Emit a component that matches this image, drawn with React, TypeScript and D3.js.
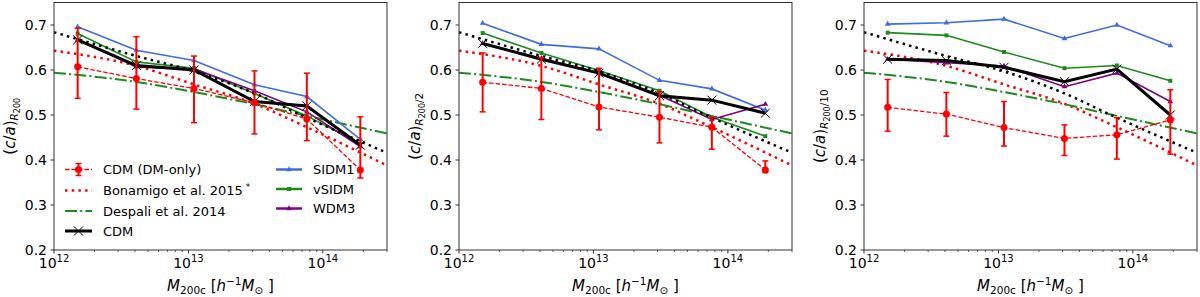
import * as d3 from "d3";

// halo mass bin centres [h^-1 M_sun]
const masses = [1.5e12, 4.1e12, 1.1e13, 3.1e13, 7.6e13, 1.9e14];

// masses where the analytic fits are sampled
const fitMasses = [1e12, 4e12, 1.1e13, 3.1e13, 7.1e13, 3e14];
const fitCdm = [0.684, 0.632, 0.597, 0.548, 0.498, 0.416];
const bonamigo = [0.643, 0.61, 0.568, 0.525, 0.477, 0.388];
const despali = [0.594, 0.574, 0.551, 0.524, 0.5, 0.459];

// one row per panel: R200, R200/2, R200/10
const radiusSuffix = ["", "/2", "/10"];

const cdmDmOnly = [
  [0.607, 0.581, 0.559, 0.527, 0.491, 0.378],
  [0.573, 0.559, 0.518, 0.495, 0.473, 0.378],
  [0.517, 0.502, 0.472, 0.448, 0.456, 0.489],
];
const cdmDmOnlyHi = [
  [0.693, 0.674, 0.631, 0.598, 0.593, 0.496],
  [0.638, 0.627, 0.604, 0.552, 0.496, 0.398],
  [0.579, 0.55, 0.53, 0.478, 0.494, 0.556],
];
const cdmDmOnlyLo = [
  [0.537, 0.513, 0.483, 0.458, 0.443, 0.36],
  [0.507, 0.49, 0.467, 0.438, 0.424, 0.372],
  [0.464, 0.453, 0.431, 0.41, 0.402, 0.413],
];
const sidm1 = [
  [0.696, 0.644, 0.621, 0.567, 0.541, 0.446],
  [0.704, 0.657, 0.647, 0.577, 0.558, 0.511],
  [0.702, 0.705, 0.713, 0.67, 0.7, 0.654],
];
const vsidm = [
  [0.681, 0.618, 0.604, 0.548, 0.498, 0.436],
  [0.682, 0.638, 0.599, 0.554, 0.495, 0.453],
  [0.683, 0.677, 0.64, 0.604, 0.61, 0.576],
];
const wdm3 = [
  [0.667, 0.607, 0.602, 0.554, 0.507, 0.43],
  [0.659, 0.626, 0.593, 0.544, 0.49, 0.524],
  [0.624, 0.616, 0.609, 0.563, 0.593, 0.53],
];
const cdm = [
  [0.667, 0.61, 0.6, 0.53, 0.52, 0.433],
  [0.659, 0.624, 0.593, 0.543, 0.533, 0.504],
  [0.624, 0.621, 0.606, 0.574, 0.602, 0.5],
];

const yTicks = [0.2, 0.3, 0.4, 0.5, 0.6, 0.7];
const xMajor = [1e12, 1e13, 1e14];

const BLUE = "#3f6be0";
const GREEN = "#1e8a1e";
const PURPLE = "#800080";
const RED = "#ff0000";
const FONT = "DejaVu Sans, sans-serif";

const plotW = 333;
const plotH = 247.5;
const top = 2.5;

const x = d3.scaleLog().domain([1e12, 3e14]).range([0, plotW]);
const y = d3.scaleLinear().domain([0.2, 0.75]).range([plotH, 0]);

const tri = d3.symbol(d3.symbolTriangle, 14);
const sq = d3.symbol(d3.symbolSquare, 16);
const times = d3.symbol((d3 as any).symbolTimes ?? d3.symbolCross, 55);

const lineOf = (vals: number[], ms: number[] = masses) =>
  d3
    .line<number>()
    .x((_, i) => x(ms[i]))
    .y((v) => y(v))
    .curve(d3.curveLinear)(vals) || "";

const fitLine = (vals: number[]) =>
  d3
    .line<number>()
    .x((_, i) => x(fitMasses[i]))
    .y((v) => y(v))
    .curve(d3.curveMonotoneX)(vals) || "";

const DOT = "2.5 4.2";
const DASHDOT = "12 3.2 2 3.2";

const Series = ({ vals, color, marker }: { vals: number[]; color: string; marker: string }) => (
  <g>
    <path d={lineOf(vals)} fill="none" stroke={color} strokeWidth={1.6} />
    {vals.map((v, i) => (
      <path key={i} d={marker} transform={`translate(${x(masses[i])},${y(v)})`} fill={color} />
    ))}
  </g>
);

const Panel = ({ p }: { p: number }) => {
  const left = 54 + p * 405;
  const minor = x.ticks().filter((t) => !xMajor.includes(t));
  return (
    <g transform={`translate(${left},${top})`} fontFamily={FONT}>
      {/* analytic fits */}
      <path d={fitLine(bonamigo)} fill="none" stroke={RED} strokeWidth={2.5} strokeDasharray={DOT} />
      <path d={fitLine(despali)} fill="none" stroke={GREEN} strokeWidth={2} strokeDasharray={DASHDOT} />

      <Series vals={sidm1[p]} color={BLUE} marker={tri() || ""} />
      <Series vals={vsidm[p]} color={GREEN} marker={sq() || ""} />
      <Series vals={wdm3[p]} color={PURPLE} marker={tri() || ""} />

      <path d={lineOf(cdm[p])} fill="none" stroke="black" strokeWidth={3} />
      {cdm[p].map((v, i) => (
        <path key={i} d={times() || ""} transform={`translate(${x(masses[i])},${y(v)})`} fill="none" stroke="black" strokeWidth={1} />
      ))}

      <path d={fitLine(fitCdm)} fill="none" stroke="black" strokeWidth={2.5} strokeDasharray={DOT} />

      {/* DM-only with error bars */}
      <path d={lineOf(cdmDmOnly[p])} fill="none" stroke={RED} strokeWidth={1.3} strokeDasharray="4.5 2" />
      {cdmDmOnly[p].map((v, i) => {
        const cx = x(masses[i]);
        return (
          <g key={i}>
            <line x1={cx} x2={cx} y1={y(cdmDmOnlyLo[p][i])} y2={y(cdmDmOnlyHi[p][i])} stroke={RED} strokeWidth={2} />
            <line x1={cx - 3} x2={cx + 3} y1={y(cdmDmOnlyLo[p][i])} y2={y(cdmDmOnlyLo[p][i])} stroke={RED} strokeWidth={1.5} />
            <line x1={cx - 3} x2={cx + 3} y1={y(cdmDmOnlyHi[p][i])} y2={y(cdmDmOnlyHi[p][i])} stroke={RED} strokeWidth={1.5} />
            <circle cx={cx} cy={y(v)} r={3.5} fill={RED} />
          </g>
        );
      })}

      {/* frame */}
      <rect x={0} y={0} width={plotW} height={plotH} fill="none" stroke="#333" strokeWidth={1} />

      {/* y axis */}
      {yTicks.map((t) => (
        <g key={t} transform={`translate(0,${y(t)})`}>
          <line x1={-3.5} x2={0} stroke="#333" />
          <text x={-7} dy="0.36em" textAnchor="end" fontSize={14}>
            {t.toFixed(1)}
          </text>
        </g>
      ))}

      {/* x axis */}
      {minor.map((t) => (
        <line key={t} x1={x(t)} x2={x(t)} y1={plotH} y2={plotH + 2} stroke="#333" strokeWidth={0.8} />
      ))}
      {xMajor.map((t) => (
        <g key={t} transform={`translate(${x(t)},${plotH})`}>
          <line y1={0} y2={3.5} stroke="#333" />
          <text y={18} textAnchor="middle" fontSize={14}>
            10<tspan fontSize={10} dy={-6}>{Math.round(Math.log10(t))}</tspan>
          </text>
        </g>
      ))}

      {/* axis labels */}
      <text x={plotW / 2} y={288.5} textAnchor="middle" fontSize={15}>
        <tspan fontStyle="italic">M</tspan>
        <tspan fontSize={10.5} dy={3}>200c</tspan>
        <tspan dy={-3}> [</tspan>
        <tspan fontStyle="italic">h</tspan>
        <tspan fontSize={10.5} dy={-6}>−1</tspan>
        <tspan dy={6} fontStyle="italic">M</tspan>
        <tspan fontSize={10.5} dy={3}>⊙</tspan>
        <tspan dy={-3}> ]</tspan>
      </text>
      <text transform={`translate(-39,${plotH / 2}) rotate(-90)`} textAnchor="middle" fontSize={15}>
        (<tspan fontStyle="italic">c</tspan>/<tspan fontStyle="italic">a</tspan>)
        <tspan fontSize={10.5} dy={3} fontStyle="italic">R</tspan>
        <tspan fontSize={8} dy={1.5}>200</tspan>
        <tspan fontSize={10.5} dy={-1.5}>{radiusSuffix[p]}</tspan>
      </text>
    </g>
  );
};

const Legend = () => {
  const fs = 13;
  const rowsL = [169.5, 190.5, 211, 231];
  const rowsR = [169.5, 189, 208.5];
  const hx0 = 65, hx1 = 92, tx = 103;
  const rx0 = 276, rx1 = 302, rtx = 313;
  const mid = (hx0 + hx1) / 2;
  const rmid = (rx0 + rx1) / 2;
  return (
    <g fontFamily={FONT} fontSize={fs}>
      {/* CDM (DM-only) */}
      <line x1={hx0} x2={hx1} y1={rowsL[0]} y2={rowsL[0]} stroke={RED} strokeWidth={1.3} strokeDasharray="4.5 2" />
      <line x1={mid} x2={mid} y1={rowsL[0] - 6} y2={rowsL[0] + 6} stroke={RED} strokeWidth={2} />
      <line x1={mid - 3} x2={mid + 3} y1={rowsL[0] - 6} y2={rowsL[0] - 6} stroke={RED} strokeWidth={1.5} />
      <line x1={mid - 3} x2={mid + 3} y1={rowsL[0] + 6} y2={rowsL[0] + 6} stroke={RED} strokeWidth={1.5} />
      <circle cx={mid} cy={rowsL[0]} r={3.5} fill={RED} />
      <text x={tx} y={rowsL[0]} dy="0.36em">CDM (DM-only)</text>

      <line x1={hx0} x2={hx1} y1={rowsL[1]} y2={rowsL[1]} stroke={RED} strokeWidth={2.5} strokeDasharray={DOT} />
      <text x={tx} y={rowsL[1]} dy="0.36em">
        Bonamigo et al. 2015<tspan fontSize={9} dy={-5}> *</tspan>
      </text>

      <line x1={hx0} x2={hx1} y1={rowsL[2]} y2={rowsL[2]} stroke={GREEN} strokeWidth={2} strokeDasharray={DASHDOT} />
      <text x={tx} y={rowsL[2]} dy="0.36em">Despali et al. 2014</text>

      <line x1={hx0} x2={hx1} y1={rowsL[3]} y2={rowsL[3]} stroke="black" strokeWidth={3} />
      <path d={times() || ""} transform={`translate(${mid},${rowsL[3]})`} fill="none" stroke="black" strokeWidth={1} />
      <text x={tx} y={rowsL[3]} dy="0.36em">CDM</text>

      {[
        { label: "SIDM1", color: BLUE, marker: tri() || "" },
        { label: "vSIDM", color: GREEN, marker: sq() || "" },
        { label: "WDM3", color: PURPLE, marker: tri() || "" },
      ].map((e, i) => (
        <g key={e.label}>
          <line x1={rx0} x2={rx1} y1={rowsR[i]} y2={rowsR[i]} stroke={e.color} strokeWidth={2.5} />
          <path d={e.marker} transform={`translate(${rmid},${rowsR[i]})`} fill={e.color} />
          <text x={rtx} y={rowsR[i]} dy="0.36em">{e.label}</text>
        </g>
      ))}
    </g>
  );
};

export default function App() {
  return (
    <svg
      width={1200}
      height={297}
      style={{ position: "absolute", left: 0, top: 0, background: "white" }}
    >
      <rect width={1200} height={297} fill="white" />
      {[0, 1, 2].map((p) => (
        <Panel key={p} p={p} />
      ))}
      <Legend />
    </svg>
  );
}
